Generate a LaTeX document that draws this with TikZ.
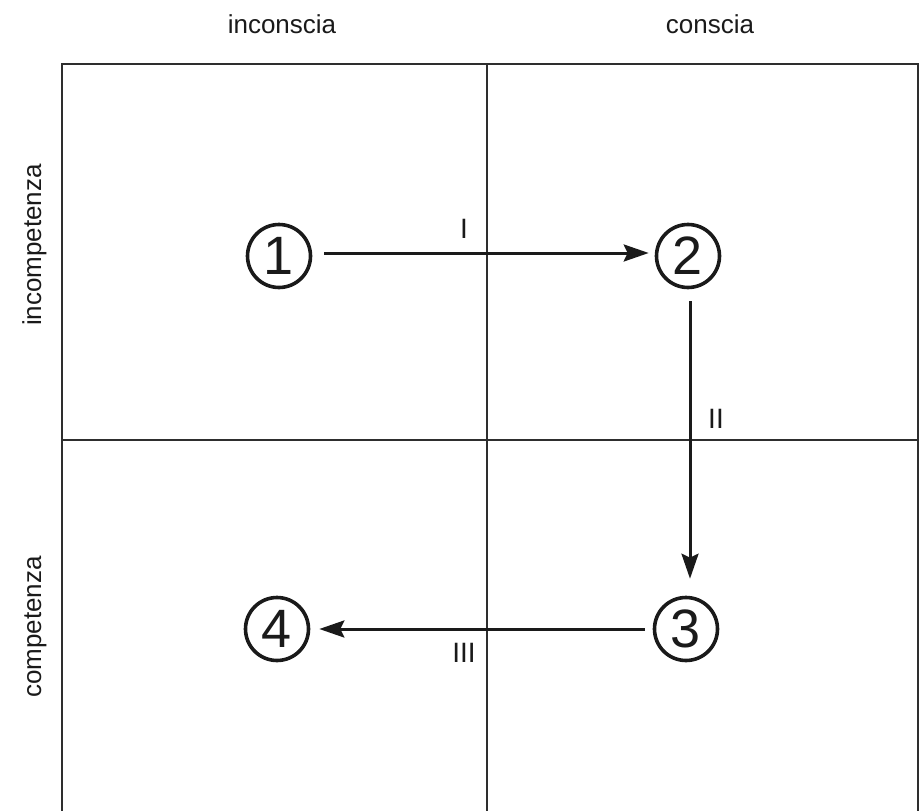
\documentclass[tikz,border=0pt]{standalone}
\usepackage{fontspec}
\setmainfont{Liberation Sans}
\usetikzlibrary{arrows.meta}
\definecolor{ink}{HTML}{1A1A1A}
\definecolor{gridc}{HTML}{2E2E2E}
\tikzset{
  gridline/.style={draw=gridc, line width=2pt},
  numcircle/.style={circle, draw=ink, line width=3.6pt, minimum size=63pt, inner sep=0pt,
    text=ink, font=\fontsize{54}{54}\selectfont},
  flow/.style={draw=ink, line width=3pt, -{Stealth[length=25pt,width=17pt,inset=4pt]}},
  steplabel/.style={text=ink, font=\fontsize{28}{28}\selectfont, inner sep=0pt},
  headlabel/.style={text=ink, font=\fontsize{26}{26}\selectfont, inner sep=0pt, anchor=base},
}
\begin{document}
\begin{tikzpicture}[x=1pt,y=-1pt]
\useasboundingbox (0,0) rectangle (919,811);
% grid
\draw[gridline] (62,815) -- (62,64) -- (918,64) -- (918,815);
\draw[gridline] (487,64) -- (487,815);
\draw[gridline] (62,440) -- (918,440);
% headings
\node[headlabel] (hInc) at (282,33) {inconscia};
\node[headlabel] (hCon) at (710,33) {conscia};
\node[headlabel, rotate=90] (hIncomp) at (41,245) {incompetenza};
\node[headlabel, rotate=90] (hComp) at (41,627) {competenza};
% numbered circles
\node[numcircle] (n1) at (279,256) {1};
\node[numcircle] (n2) at (688,256) {2};
\node[numcircle] (n3) at (686,629) {3};
\node[numcircle] (n4) at (277,629) {4};
% arrows
\draw[flow] ([xshift=12pt]n1.east |- 0,253) -- ([xshift=-6pt]n2.west |- 0,253);
\draw[flow] ([yshift=-12pt]n2.south -| 690,0) -- ([yshift=17pt]n3.north -| 690,0);
\draw[flow] ([xshift=-8pt]n3.west |- 0,629) -- ([xshift=9pt]n4.east |- 0,629);
% step labels
\node[steplabel] (l1) at (464,229) {I};
\node[steplabel] (l2) at (716,419) {II};
\node[steplabel] (l3) at (464,653) {III};
\end{tikzpicture}
\end{document}
